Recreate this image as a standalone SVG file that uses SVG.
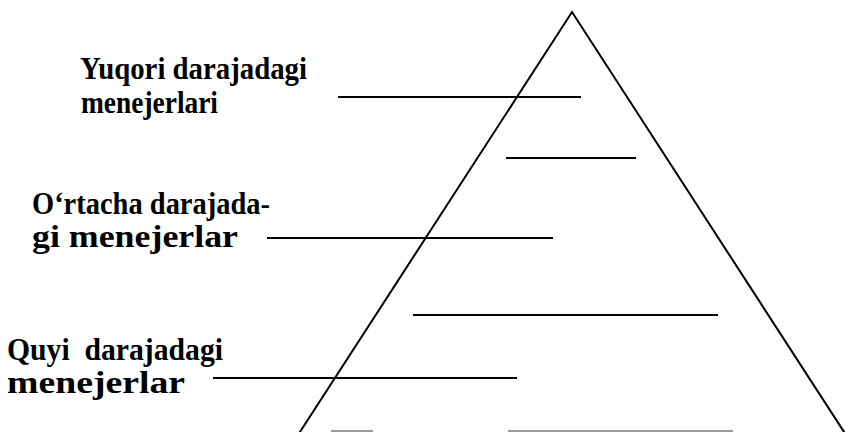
<svg xmlns="http://www.w3.org/2000/svg" width="845" height="432" viewBox="0 0 845 432">
<style>
  .lbl { font-family: "Liberation Serif", "Times New Roman", serif; font-size: 31px; font-weight: bold; fill: #000; }
  .ln { stroke: #000; stroke-width: 2; fill: none; stroke-linecap: butt; }
  .faint { stroke: #9a9a9a; stroke-width: 2; fill: none; }
</style>
<rect width="845" height="432" fill="#fff"/>
<g id="pyramid">
  <polyline class="ln" points="298,435 572,12 846,435" stroke-linejoin="miter"/>
</g>
<g id="node-top">
  <text class="lbl" x="80" y="79" textLength="227" lengthAdjust="spacingAndGlyphs">Yuqori darajadagi</text>
  <text class="lbl" x="81" y="113" textLength="137" lengthAdjust="spacingAndGlyphs">menejerlari</text>
</g>
<g id="node-middle">
  <text class="lbl" x="32" y="214" textLength="238" lengthAdjust="spacingAndGlyphs">O‘rtacha darajada-</text>
  <text class="lbl" x="32" y="247" textLength="206" lengthAdjust="spacingAndGlyphs">gi menejerlar</text>
</g>
<g id="node-lower">
  <text class="lbl" x="7" y="360" textLength="216" lengthAdjust="spacingAndGlyphs" xml:space="preserve">Quyi  darajadagi</text>
  <text class="lbl" x="7" y="393" textLength="178" lengthAdjust="spacingAndGlyphs">menejerlar</text>
</g>
<g id="connectors">
  <line class="ln" x1="338" y1="97" x2="581" y2="97"/>
  <line class="ln" x1="506" y1="158" x2="636" y2="158"/>
  <line class="ln" x1="267" y1="238" x2="553" y2="238"/>
  <line class="ln" x1="413" y1="315" x2="718" y2="315"/>
  <line class="ln" x1="213" y1="378" x2="517" y2="378"/>
  <line class="faint" x1="331" y1="431" x2="373" y2="431"/>
  <line class="faint" x1="508" y1="431" x2="733" y2="431"/>
</g>
</svg>
